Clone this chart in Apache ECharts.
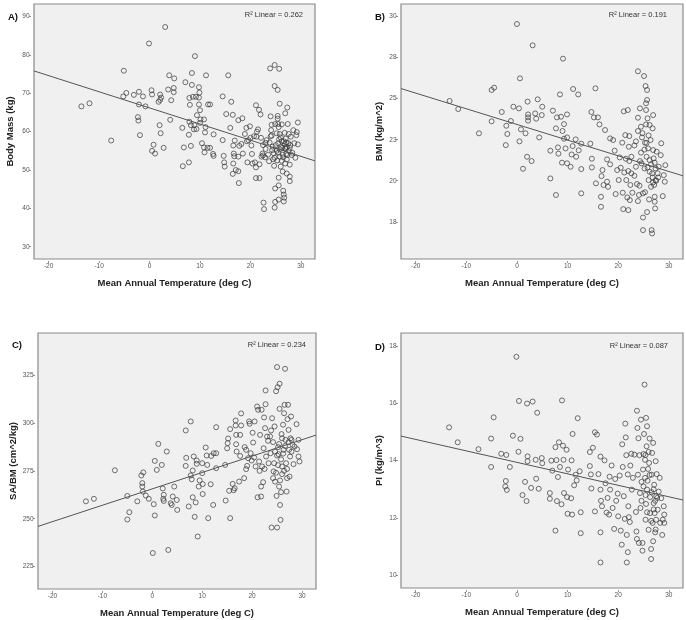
<!DOCTYPE html>
<html>
<head>
<meta charset="utf-8">
<script src="https://cdn.jsdelivr.net/npm/echarts@6/dist/echarts.min.js"></script>
<style>html,body{margin:0;padding:0;background:#fff}#c{width:686px;height:620px}</style>
</head>
<body>
<div id="c"></div>
<script>
// ---- Data (Mean Annual Temperature, deg C  vs. measure) ----
const xTicks = [-20, -10, 0, 10, 20, 30];
const massTicks = [30, 40, 50, 60, 70, 80, 90];
const bmiTicks = [17.5, 20, 22.5, 25, 27.5, 30];
const sabmTicks = [225, 250, 275, 300, 325];
const piTicks = [10, 12, 14, 16, 18];

const massPts = [[-13.5,66.6],[-11.9,67.4],[-7.6,57.7],[-5.1,75.9],[-5.2,69.2],[-4.6,70.1],[-3.1,69.6],[-2.1,70.4],[-2.1,67.1],[-2.3,63.8],[-2.2,62.9],[-1.9,59.1],[-1.3,69.2],[-0.8,66.6],[-0.1,83],[0.4,70.8],[0.5,69.7],[0.5,55.0],[0.8,56.6],[1.1,54.3],[1.8,67.8],[2.0,61.7],[2.1,68.3],[2.1,69.7],[2.2,59.6],[2.3,68.9],[2.8,55.8],[3.1,87.3],[3.7,71.0],[3.9,74.7],[4.1,63.1],[4.3,68.2],[4.8,71.4],[4.9,73.9],[4.8,70.3],[6.5,61.0],[6.6,51.0],[6.8,55.9],[7.1,72.9],[7.8,59.2],[7.8,52.0],[7.9,68.8],[8.0,67.0],[7.9,62.6],[8.2,61.7],[8.2,56.3],[8.4,75.3],[8.4,72.2],[8.6,69.1],[8.8,60.6],[9.0,79.7],[9.2,69.1],[8.9,61.7],[9.4,64.3],[9.3,60.7],[9.8,71.6],[9.9,70.2],[9.8,68.9],[9.8,67.1],[10.0,65.6],[10.0,62.3],[10.1,63.2],[10.4,57.0],[10.8,63.2],[10.8,55.9],[10.9,54.6],[11.0,59.8],[11.1,61.2],[11.2,74.7],[11.5,55.8],[11.6,67.1],[12.0,67.1],[12.0,55.8],[12.6,54.2],[12.7,59.3],[12.7,53.7],[14.5,69.2],[14.5,57.8],[14.7,53.7],[14.8,52.0],[14.9,50.9],[15.2,64.6],[15.6,74.7],[16.0,61.0],[16.2,67.8],[16.5,64.4],[16.6,51.7],[16.5,49.0],[16.6,56.4],[16.7,54.3],[16.8,53.6],[16.9,57.7],[17.1,50.0],[17.6,49.7],[17.7,46.6],[17.6,63.0],[17.6,53.5],[17.8,56.3],[18.2,56.8],[18.4,63.5],[18.5,54.3],[18.9,59.4],[19.2,61.0],[19.3,57.5],[19.4,52.0],[19.6,57.8],[19.9,61.4],[20.0,58.4],[20.2,56.4],[20.3,54.2],[20.4,51.7],[20.7,58.8],[20.9,52.0],[21.1,66.9],[21.1,50.7],[21.1,47.9],[21.2,58.7],[21.3,60.0],[21.5,60.6],[21.7,65.7],[21.8,47.9],[21.8,51.5],[22.0,64.5],[22.1,58.4],[22.2,53.5],[22.4,54.3],[22.5,53.8],[22.6,41.5],[22.7,39.8],[22.9,53.3],[23.0,57.1],[23.2,57.8],[23.7,52.3],[23.9,76.5],[24.0,64.0],[24.2,61.8],[24.2,59.0],[24.4,56.1],[24.5,52.8],[24.7,51.1],[24.8,77.4],[24.8,71.9],[24.9,62.0],[24.9,45.2],[24.9,41.7],[24.8,40.2],[25.2,59.6],[25.4,70.9],[25.4,64.1],[25.4,63.4],[25.5,62.0],[25.6,61.2],[25.6,48.0],[25.6,46.0],[25.6,42.3],[25.7,76.4],[25.8,67.3],[25.7,58.0],[25.8,55.4],[25.8,53.5],[26.0,50.9],[26.2,61.9],[26.2,57.5],[26.4,54.0],[26.4,49.6],[26.5,44.6],[26.6,43.6],[26.7,42.8],[26.6,41.8],[26.8,59.7],[26.9,64.8],[26.9,55.7],[26.9,51.7],[27.1,57.2],[27.1,54.2],[27.2,52.8],[27.2,49.1],[27.3,66.3],[27.4,62.0],[27.6,59.4],[27.8,55.8],[27.8,51.4],[27.8,48.3],[27.8,47.1],[28.0,58.7],[28.2,53.9],[28.5,60.4],[28.7,57.0],[28.9,53.2],[29.1,59.1],[29.2,59.9],[29.4,62.4],[29.4,56.7],[24.0,58.8],[24.3,55.2],[24.6,54.4],[25.0,56.5],[25.2,55.0],[25.5,57.0],[25.5,54.5],[25.8,59.4],[26.0,56.0],[26.0,58.5],[26.3,55.8],[26.5,53.3],[26.6,57.5],[26.8,56.8],[27.0,55.5],[27.0,58.2],[27.2,56.0],[27.3,53.9],[27.5,57.0],[27.6,55.0],[23.5,54.0],[23.0,55.5],[22.5,56.5],[24.8,53.2],[25.3,52.5],[26.2,52.4],[27.9,56.5],[28.3,54.5],[24.1,60.4],[23.8,57.2]];

const bmiPts = [[-13.3,24.86],[-11.6,24.37],[-7.5,22.89],[-5.0,23.62],[-5.0,25.53],[-4.5,25.67],[-3.0,24.19],[-2.2,22.17],[-2.1,23.35],[-1.9,22.85],[-1.2,23.64],[-0.7,24.51],[0.0,29.55],[0.4,24.41],[0.5,22.40],[0.6,26.24],[0.8,23.13],[1.2,20.73],[1.7,22.89],[2.0,21.46],[2.1,24.82],[2.2,24.04],[2.2,23.86],[2.2,23.66],[2.9,21.20],[3.1,28.25],[3.6,24.10],[3.8,23.78],[4.1,24.96],[4.4,22.64],[4.9,24.0],[5.0,24.51],[6.6,21.83],[6.6,20.14],[7.1,24.27],[7.7,23.19],[7.7,19.13],[7.9,23.86],[8.1,22.03],[8.2,21.65],[8.5,25.26],[8.7,23.9],[8.9,21.1],[9.0,23.03],[9.1,27.44],[9.3,23.45],[9.3,22.56],[9.6,21.97],[9.9,24.04],[9.9,22.64],[9.9,21.06],[10.6,20.85],[10.8,21.6],[11.0,22.11],[11.1,25.59],[11.6,22.52],[11.7,21.46],[12.1,25.26],[12.2,21.85],[12.7,22.26],[12.7,20.71],[12.7,19.23],[14.5,22.26],[14.7,24.19],[14.8,21.34],[14.8,20.81],[15.2,23.86],[15.5,25.63],[15.6,19.84],[16.0,23.86],[16.3,23.43],[16.7,20.28],[16.6,19.02],[16.6,18.41],[16.9,20.65],[17.1,19.74],[17.4,23.09],[17.8,21.3],[17.8,19.94],[18.0,19.63],[18.4,22.58],[18.4,21.0],[19.0,22.48],[19.3,21.83],[19.5,19.19],[19.8,20.65],[20.1,20.04],[20.3,21.42],[20.5,20.79],[20.8,22.32],[20.9,19.27],[21.0,18.27],[21.1,24.23],[21.4,22.78],[21.5,21.34],[21.6,20.04],[21.8,18.98],[21.9,24.31],[22.0,18.21],[22.0,20.59],[22.1,22.07],[22.2,22.72],[22.3,18.82],[22.4,19.74],[22.6,20.45],[22.6,21.46],[22.8,19.27],[23.2,22.15],[23.5,20.85],[23.7,19.8],[23.9,26.67],[23.9,18.76],[23.9,23.03],[23.9,23.84],[24.1,19.13],[24.3,24.41],[24.5,21.71],[24.5,23.29],[24.6,21.06],[24.7,22.64],[24.9,17.76],[24.9,16.99],[24.9,19.23],[25.1,26.38],[25.2,20.75],[25.3,22.32],[25.4,25.77],[25.5,24.72],[25.5,23.43],[25.5,24.31],[25.6,21.46],[25.7,24.92],[25.7,25.53],[25.7,18.09],[25.8,23.8],[25.9,21.97],[26.0,22.76],[26.0,20.04],[26.1,18.86],[26.2,21.26],[26.2,20.55],[26.4,22.48],[26.5,19.63],[26.6,16.99],[26.7,16.79],[26.7,20.45],[26.8,23.19],[26.9,24.0],[26.9,21.87],[27.0,21.36],[27.1,19.74],[27.2,19.02],[27.2,18.72],[27.3,18.31],[27.4,20.75],[27.4,20.04],[27.6,21.77],[27.8,20.45],[28.0,20.85],[28.4,21.56],[28.5,22.28],[28.8,19.06],[29.0,20.34],[29.2,19.94],[29.3,20.95],[24.8,22.9],[25.2,21.9],[25.6,22.3],[26.2,23.4],[26.8,20.2],[27.2,21.1],[27.5,20.0],[26.5,21.0],[25.8,20.8],[24.3,21.2],[23.2,20.3],[22.2,21.2],[21.2,20.5],[27.9,20.2],[26.9,19.9],[25.3,19.3],[24.2,19.7],[23.5,22.4]];

const sabmPts = [[-13.3,259.1],[-11.7,260.4],[-7.5,275.3],[-5.0,261.9],[-5.0,249.6],[-4.6,253.4],[-3.0,259.1],[-2.2,272.6],[-2.0,268.6],[-1.8,274.2],[-1.9,264.2],[-2.0,266.8],[-1.3,262.1],[-0.7,260.4],[0.1,232.1],[0.3,257.6],[0.5,280.2],[0.5,251.7],[0.9,275.5],[1.2,289.1],[1.9,278.1],[2.1,265.8],[2.3,262.5],[2.2,260.4],[2.3,259.3],[2.9,285.1],[3.2,233.7],[3.7,258.1],[3.9,257.2],[4.1,261.6],[4.4,266.8],[4.9,259.8],[5.0,254.6],[6.7,296.1],[6.7,277.6],[6.8,281.8],[7.3,256.4],[7.7,300.8],[7.7,272.6],[7.9,270.6],[8.1,275.2],[8.1,261.2],[8.3,282.5],[8.5,251.0],[8.7,258.5],[8.9,280.4],[8.9,278.7],[9.1,240.7],[9.3,266.8],[9.5,270.0],[10.0,279.0],[10.0,273.8],[10.1,268.1],[10.1,262.9],[10.7,287.2],[10.9,283.0],[11.0,278.1],[11.2,250.3],[11.7,268.0],[11.8,282.8],[12.2,257.2],[12.3,284.2],[12.8,284.2],[12.8,297.8],[12.8,276.4],[14.6,278.1],[14.7,259.5],[15.0,286.8],[15.1,289.5],[15.2,291.9],[15.4,264.6],[15.6,250.3],[15.6,296.8],[16.1,268.2],[16.3,264.9],[16.5,265.9],[16.7,298.7],[16.7,301.3],[16.8,293.8],[16.8,288.9],[16.9,285.1],[17.4,269.4],[17.6,282.8],[17.6,293.8],[17.8,305.0],[17.8,298.7],[18.4,271.2],[18.5,287.4],[18.8,286.0],[18.8,275.9],[19.0,277.6],[19.2,281.6],[19.4,300.8],[19.5,299.6],[19.7,284.2],[19.9,280.4],[20.1,294.9],[20.2,289.8],[20.4,282.0],[20.5,300.8],[20.7,277.3],[21.0,308.6],[21.1,261.2],[21.2,306.9],[21.4,279.9],[21.5,275.0],[21.6,293.8],[21.8,266.8],[21.8,261.6],[21.9,306.9],[22.0,277.3],[22.2,269.1],[22.3,286.8],[22.4,302.9],[22.6,297.3],[22.7,317.0],[22.7,309.8],[22.8,282.5],[23.0,292.9],[23.2,290.7],[23.7,284.2],[23.8,296.1],[23.9,245.4],[24.0,302.5],[24.2,271.2],[24.3,274.7],[24.4,279.0],[24.5,298.2],[24.6,269.4],[24.8,316.6],[24.9,261.9],[25.0,329.2],[25.0,245.4],[25.1,318.7],[25.2,287.4],[25.3,283.7],[25.4,266.8],[25.5,320.5],[25.5,307.4],[25.6,257.2],[25.7,249.4],[25.8,263.9],[25.9,294.2],[26.0,277.3],[26.0,273.3],[26.2,299.1],[26.3,286.0],[26.4,305.1],[26.5,309.5],[26.6,328.3],[26.7,291.2],[26.8,279.0],[26.9,264.2],[27.0,271.2],[27.1,302.0],[27.2,309.5],[27.3,296.4],[27.4,286.0],[27.5,272.0],[27.6,282.5],[27.8,303.4],[27.9,291.2],[28.1,288.6],[28.3,278.5],[28.5,287.7],[28.9,299.4],[29.0,286.3],[29.3,291.2],[29.3,282.5],[29.5,279.9],[25.0,283],[25.4,289],[25.8,281],[26.2,284],[26.6,288],[27.0,276],[27.3,290],[26.0,292],[25.2,278],[24.6,285],[24.2,290],[23.6,293],[27.7,292],[26.4,275],[25.6,270],[24.8,274],[27.9,285],[23.3,279],[22.5,276]];

const piPts = [[-13.4,15.16],[-11.7,14.64],[-7.6,14.40],[-5.1,13.78],[-5.1,14.77],[-4.6,15.51],[-3.1,14.24],[-2.3,13.10],[-2.2,13.29],[-2.0,12.98],[-2.1,14.20],[-1.4,13.78],[-0.8,14.87],[-0.1,17.62],[0.3,14.31],[0.4,16.08],[0.7,14.76],[1.1,12.80],[1.6,13.26],[1.9,12.59],[2.0,15.99],[2.1,14.15],[2.1,13.98],[2.8,13.05],[3.1,16.06],[3.7,14.03],[3.8,13.37],[4.0,15.67],[4.3,13.02],[4.9,14.09],[5.0,13.91],[6.5,12.87],[6.5,12.67],[6.8,14.00],[7.0,13.65],[7.6,14.47],[7.6,11.56],[7.8,14.02],[7.9,12.59],[8.1,13.43],[8.3,14.64],[8.5,13.78],[8.8,12.48],[8.9,16.10],[9.1,14.52],[9.2,14.03],[9.3,12.87],[9.8,14.38],[9.9,12.73],[10.0,12.15],[10.1,13.69],[10.7,12.69],[10.8,14.01],[10.9,12.12],[11.0,14.93],[11.3,13.14],[11.6,13.51],[11.8,13.31],[12.0,15.48],[12.4,13.63],[12.6,12.20],[12.6,11.47],[14.4,13.81],[14.4,14.30],[14.6,13.52],[14.7,13.03],[15.0,14.45],[15.4,14.99],[15.4,12.23],[15.8,14.91],[16.1,13.53],[16.5,14.14],[16.5,12.99],[16.5,11.50],[16.5,10.45],[16.6,12.60],[16.8,12.41],[17.3,14.01],[17.5,13.21],[17.7,12.19],[17.9,12.70],[18.2,12.12],[18.3,13.44],[18.4,12.99],[18.7,13.83],[18.9,12.35],[19.2,11.62],[19.4,13.36],[19.6,12.60],[19.9,12.85],[20.0,12.06],[20.3,13.48],[20.5,11.56],[20.7,11.07],[20.8,14.57],[20.9,13.78],[21.1,12.76],[21.3,11.97],[21.4,15.29],[21.5,14.81],[21.6,14.19],[21.7,11.41],[21.7,10.45],[21.9,13.52],[21.9,10.81],[22.0,12.41],[22.1,12.03],[22.3,11.86],[22.4,13.83],[22.6,14.24],[22.7,12.99],[22.9,13.40],[23.2,14.21],[23.5,12.21],[23.6,11.53],[23.7,11.27],[23.7,15.74],[23.8,15.14],[23.9,13.51],[24.0,14.78],[24.1,11.13],[24.2,14.19],[24.3,12.87],[24.4,12.35],[24.5,15.43],[24.6,13.26],[24.8,10.86],[24.8,11.13],[24.9,13.69],[25.0,14.23],[25.1,14.93],[25.2,16.65],[25.3,14.03],[25.3,13.40],[25.4,11.94],[25.5,15.49],[25.5,12.49],[25.6,14.50],[25.7,12.99],[25.7,15.20],[25.9,13.71],[26.0,11.59],[26.1,13.92],[26.2,14.77],[26.3,12.73],[26.3,12.17],[26.5,10.57],[26.5,10.92],[26.6,13.51],[26.7,14.27],[26.8,11.83],[26.9,11.19],[26.9,14.62],[27.0,12.52],[27.1,13.16],[27.2,12.17],[27.3,11.50],[27.4,13.98],[27.5,12.76],[27.5,11.94],[27.6,13.53],[27.8,12.29],[28.0,12.92],[28.2,13.40],[28.3,11.83],[28.5,12.69],[28.7,11.41],[28.8,11.94],[29.0,12.41],[29.1,12.12],[29.1,11.83],[25.0,13.1],[25.4,12.8],[25.8,13.3],[26.2,13.5],[26.6,12.9],[27.0,13.0],[27.3,12.6],[27.0,12.3],[26.5,11.9],[25.7,12.2],[24.6,12.6],[27.7,12.7],[26.0,14.3],[25.4,14.2],[27.4,11.6]];

// Linear fits [intercept at 0 deg C, slope] and R^2 labels
const fitMass = [66.2, -0.421];
const fitBmi = [23.43, -0.0955];
const fitSabm = [265.6, 0.856];
const fitPi = [13.94, -0.040];
const r2Labels = ['0.262', '0.191', '0.234', '0.087'];
const panelLabels = ['A)', 'B)', 'C)', 'D)'];
const yNames = ['Body Mass (kg)', 'BMI (kg/m^2)', 'SA/BM (cm^2/kg)', 'PI (kg/m^3)'];
const xName = 'Mean Annual Temperature (deg C)';

// ---- Layout ----
const FONT = 'Liberation Sans, Arial, sans-serif';
const XMIN = -22.9, XMAX = 32.8;
const grids = [
  {left: 34, top: 4, width: 281, height: 255},
  {left: 401, top: 4, width: 282, height: 255},
  {left: 38, top: 333, width: 278, height: 256},
  {left: 401, top: 333, width: 282, height: 255}
];
const yRanges = [[26.8, 93.3], [15.23, 30.77], [213.3, 347], [9.56, 18.45]];
const yTickSets = [massTicks, bmiTicks, sabmTicks, piTicks];
const yNameGaps = [16, 14, 17, 14];
const ptsSets = [massPts, bmiPts, sabmPts, piPts];
const fits = [fitMass, fitBmi, fitSabm, fitPi];

const option = {
  animation: false,
  backgroundColor: '#fff',
  grid: grids.map(g => Object.assign({show: true, backgroundColor: '#f0f0f0', borderColor: '#8a8a8a', borderWidth: 1.2}, g)),
  xAxis: grids.map((g, i) => ({
    type: 'value', gridIndex: i, min: XMIN, max: XMAX, offset: 2, position: 'bottom',
    name: xName, nameLocation: 'middle', nameGap: 17,
    nameTextStyle: {fontFamily: FONT, fontWeight: 'bold', fontSize: 9.5, color: '#222'},
    axisLine: {show: false, onZero: false}, splitLine: {show: false},
    axisTick: {show: true, length: 2, customValues: xTicks, lineStyle: {color: '#777', width: 0.8}},
    axisLabel: {customValues: xTicks, fontFamily: FONT, fontSize: 6.5, color: '#555', margin: 2}
  })),
  yAxis: grids.map((g, i) => ({
    type: 'value', gridIndex: i, min: yRanges[i][0], max: yRanges[i][1], offset: 3, position: 'left',
    name: yNames[i], nameLocation: 'middle', nameGap: yNameGaps[i], nameRotate: 90,
    nameTextStyle: {fontFamily: FONT, fontWeight: 'bold', fontSize: 9.5, color: '#222'},
    axisLine: {show: false, onZero: false}, splitLine: {show: false},
    axisTick: {show: true, length: 2, customValues: yTickSets[i], lineStyle: {color: '#777', width: 0.8}},
    axisLabel: {customValues: yTickSets[i], fontFamily: FONT, fontSize: 6.5, color: '#555', margin: 1.5,
      formatter: v => String(Math.round(v))}
  })),
  title: [
    ...panelLabels.map((t, i) => ({
      text: t, left: [3, 370, 7, 370][i], top: [7, 7, 335, 337][i],
      textStyle: {fontFamily: FONT, fontWeight: 'bold', fontSize: 9.5, color: '#111'}
    })),
    ...r2Labels.map((r, i) => ({
      text: 'R² Linear = ' + r,
      right: [378, 14, 375, 13][i], top: [6, 6, 336, 337][i],
      textStyle: {fontFamily: FONT, fontWeight: 'normal', fontSize: 7.5, color: '#333'}
    }))
  ],
  series: [
    ...ptsSets.map((pts, i) => ({
      type: 'scatter', xAxisIndex: i, yAxisIndex: i, data: pts,
      symbol: 'circle', symbolSize: 5,
      itemStyle: {color: 'rgba(0,0,0,0)', borderColor: '#3a3a3a', borderWidth: 0.9},
      silent: true
    })),
    ...fits.map((f, i) => ({
      type: 'line', xAxisIndex: i, yAxisIndex: i,
      data: [[XMIN, f[0] + f[1] * XMIN], [XMAX, f[0] + f[1] * XMAX]],
      symbol: 'none', lineStyle: {color: '#555', width: 1}, silent: true, z: 3
    }))
  ]
};
const chart = echarts.init(document.getElementById('c'), null, {renderer: 'canvas'});
chart.setOption(option);
</script>
</body>
</html>
